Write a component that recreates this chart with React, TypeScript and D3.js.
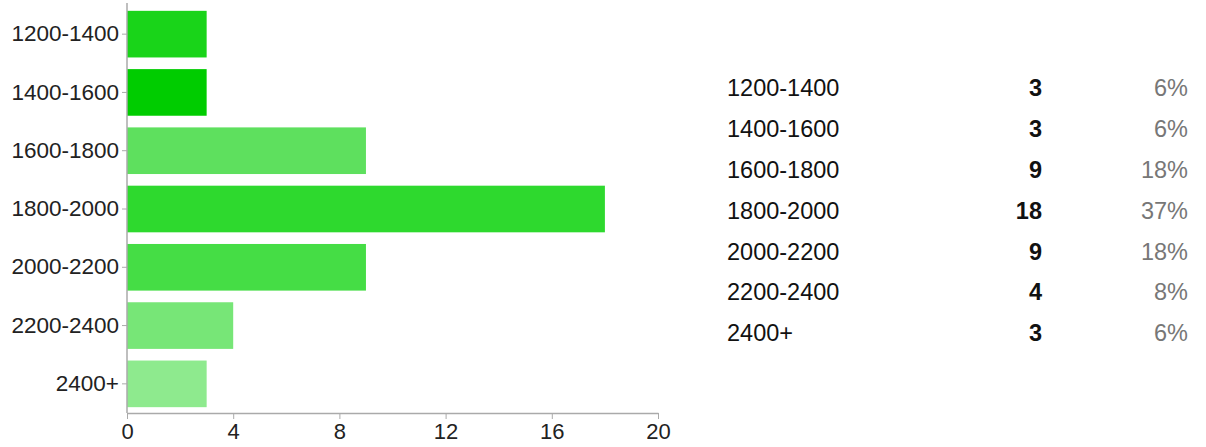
import { useEffect, useRef } from 'react';
import * as d3 from 'd3';

const categories = ['1200-1400', '1400-1600', '1600-1800', '1800-2000', '2000-2200', '2200-2400', '2400+'];
const counts = [3, 3, 9, 18, 9, 4, 3];
const percents = ['6%', '6%', '18%', '37%', '18%', '8%', '6%'];
const barColors = ['#19d419', '#00cc00', '#5ee05e', '#2ed92e', '#45dd45', '#77e677', '#8eea8e'];
const xTicks = [0, 4, 8, 12, 16, 20];

const W = 1206;
const H = 447;
const FONT = "Arial, 'Liberation Sans', sans-serif";

export default function App() {
  const ref = useRef<SVGSVGElement>(null);

  useEffect(() => {
    const svg = d3.select(ref.current);
    svg.selectAll('*').remove();

    const x = d3.scaleLinear().domain([0, 20]).range([127, 658]);
    const y = d3.scaleBand<string>()
      .domain(categories)
      .range([5, 413])
      .paddingInner(0.2)
      .paddingOuter(0.1);

    // Bars
    svg.append('g')
      .selectAll('rect')
      .data(categories)
      .enter()
      .append('rect')
      .attr('x', x(0))
      .attr('y', (d) => y(d)!)
      .attr('width', (_, i) => x(counts[i]) - x(0))
      .attr('height', y.bandwidth())
      .attr('fill', (_, i) => barColors[i]);

    // X axis
    const xAxis = svg.append('g')
      .attr('transform', `translate(0,${413})`)
      .call(d3.axisBottom(x).tickValues(xTicks).tickSize(6).tickSizeOuter(0).tickPadding(4));
    xAxis.select('.domain').attr('stroke', '#aaa').attr('stroke-width', 1.5);
    xAxis.selectAll('.tick line').attr('stroke', '#aaa');
    xAxis.selectAll('text')
      .attr('fill', '#222')
      .attr('font-size', '22px')
      .attr('font-family', FONT);

    // Y axis
    const yAxis = svg.append('g')
      .attr('transform', `translate(${127},0)`)
      .call(d3.axisLeft(y).tickSize(5).tickSizeOuter(0).tickPadding(3));
    yAxis.select('.domain').attr('d', 'M0,3V413').attr('stroke', '#aaa').attr('stroke-width', 1.5);
    yAxis.selectAll('.tick line').attr('stroke', '#aaa');
    yAxis.selectAll('text')
      .attr('fill', '#222')
      .attr('font-size', '22.5px')
      .attr('font-family', FONT);

    // Summary table
    const row = d3.scalePoint<string>().domain(categories).range([88, 333]);
    const table = svg.append('g').attr('font-family', FONT).attr('font-size', '23.5px');
    categories.forEach((c, i) => {
      const cy = row(c)!;
      table.append('text').attr('x', 727).attr('y', cy).attr('dy', '0.35em').attr('fill', '#111').text(c);
      table.append('text').attr('x', 1042).attr('y', cy).attr('dy', '0.35em').attr('text-anchor', 'end')
        .attr('font-weight', 'bold').attr('fill', '#111').text(counts[i]);
      table.append('text').attr('x', 1188).attr('y', cy).attr('dy', '0.35em').attr('text-anchor', 'end')
        .attr('fill', '#777').text(percents[i]);
    });
  }, []);

  return (
    <svg
      ref={ref}
      width={W}
      height={H}
      style={{ position: 'absolute', left: 0, top: 0, background: '#fff' }}
    />
  );
}
